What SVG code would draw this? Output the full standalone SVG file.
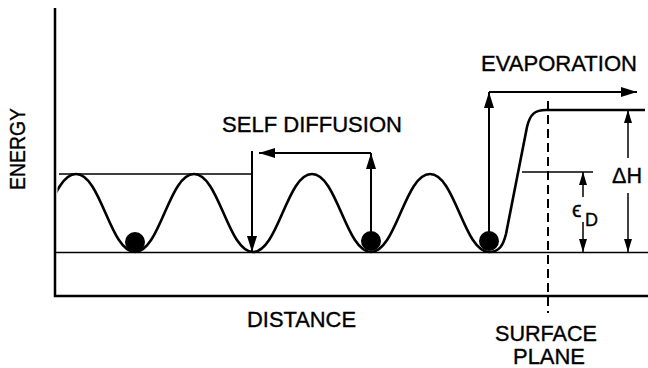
<svg xmlns="http://www.w3.org/2000/svg" width="648" height="368" viewBox="0 0 648 368">
<style>
  .lbl { font-family: "Liberation Sans", Arial, sans-serif; font-size: 21.5px; fill: #000; stroke: #000; stroke-width: 0.35; }
  .thick { stroke: #000; stroke-width: 2; fill: none; }
  .thin { stroke: #000; stroke-width: 1.5; fill: none; }
  .axis { stroke: #000; stroke-width: 2.5; fill: none; }
  .curve { stroke: #000; stroke-width: 2.6; fill: none; stroke-linejoin: round; }
  .atom { fill: #000; }
</style>
<defs>
  <marker id="ah" viewBox="0 0 16 10" refX="16" refY="5" markerWidth="16" markerHeight="10" markerUnits="userSpaceOnUse" orient="auto">
    <path d="M0,0 L16,5 L0,10 z" fill="#000"/>
  </marker>
  <marker id="ahs" viewBox="0 0 13 8" refX="13" refY="4" markerWidth="13" markerHeight="8" markerUnits="userSpaceOnUse" orient="auto">
    <path d="M0,0 L13,4 L0,8 z" fill="#000"/>
  </marker>
  <clipPath id="plot">
    <rect x="57.5" y="0" width="591" height="368"/>
  </clipPath>
</defs>

<g id="axes">
  <polyline class="axis" points="55,8 55,296 648,296"/>
  <line class="thin" x1="55" y1="252.5" x2="648" y2="252.5"/>
  <line class="thin" x1="59" y1="174" x2="252" y2="174"/>
  <line class="thin" x1="522" y1="172" x2="593" y2="172"/>
  <line id="surface-plane" x1="548" y1="101" x2="548" y2="313" stroke="#000" stroke-width="2" stroke-dasharray="9 5"/>
</g>

<g id="potential">
  <path class="curve" clip-path="url(#plot)" d="M 17 252 C 42 252 51 174 76 174 C 101 174 110 252 135 252 C 160 252 169 174 194 174 C 219 174 228 252 253 252 C 278 252 287 174 312 174 C 337 174 346 252 371 252 C 396 252 405 174 430 174 C 455 174 464 252 489 252 C 499 252 503 246 506 234 L 527 127 C 530 114 535 110 546 110 L 645 110"/>
</g>

<g id="atom1"><circle class="atom" cx="135" cy="242" r="10"/></g>
<g id="atom2"><circle class="atom" cx="371" cy="241" r="10"/></g>
<g id="atom3"><circle class="atom" cx="489" cy="241" r="10"/></g>

<g id="connectors">
  <line class="thick" x1="371" y1="240" x2="371" y2="153" marker-end="url(#ah)"/>
  <line class="thick" x1="371" y1="153" x2="259" y2="153" marker-end="url(#ah)"/>
  <line class="thick" x1="252" y1="151" x2="252" y2="252" marker-end="url(#ah)"/>
  <line class="thick" x1="489" y1="240" x2="489" y2="92" marker-end="url(#ah)"/>
  <line class="thick" x1="489" y1="92" x2="637" y2="92" marker-end="url(#ah)"/>
  <line class="thin" x1="583" y1="197" x2="583" y2="172" marker-end="url(#ahs)"/>
  <line class="thin" x1="583" y1="222" x2="583" y2="252" marker-end="url(#ahs)"/>
  <line class="thin" x1="628" y1="158" x2="628" y2="110" marker-end="url(#ahs)"/>
  <line class="thin" x1="628" y1="193" x2="628" y2="252" marker-end="url(#ahs)"/>
</g>

<g id="labels">
  <text class="lbl" font-size="20" text-anchor="middle" transform="translate(25,149) rotate(-90)" textLength="82" lengthAdjust="spacingAndGlyphs">ENERGY</text>
  <text class="lbl" x="222" y="132" textLength="180" lengthAdjust="spacingAndGlyphs">SELF DIFFUSION</text>
  <text class="lbl" x="481" y="71" textLength="156" lengthAdjust="spacingAndGlyphs">EVAPORATION</text>
  <text class="lbl" x="247" y="327" textLength="109" lengthAdjust="spacingAndGlyphs">DISTANCE</text>
  <text class="lbl" x="495" y="341" font-size="16" textLength="102" lengthAdjust="spacingAndGlyphs">SURFACE</text>
  <text class="lbl" x="513" y="364" font-size="16" textLength="72" lengthAdjust="spacingAndGlyphs">PLANE</text>
  <text class="lbl" x="612" y="183" font-size="22" textLength="30" lengthAdjust="spacingAndGlyphs">ΔH</text>
  <text class="lbl" x="572" y="217" font-family="'DejaVu Sans', sans-serif" font-size="23">ϵ<tspan x="585" y="226" font-family="'Liberation Sans', Arial, sans-serif" font-size="18">D</tspan></text>
</g>
</svg>
